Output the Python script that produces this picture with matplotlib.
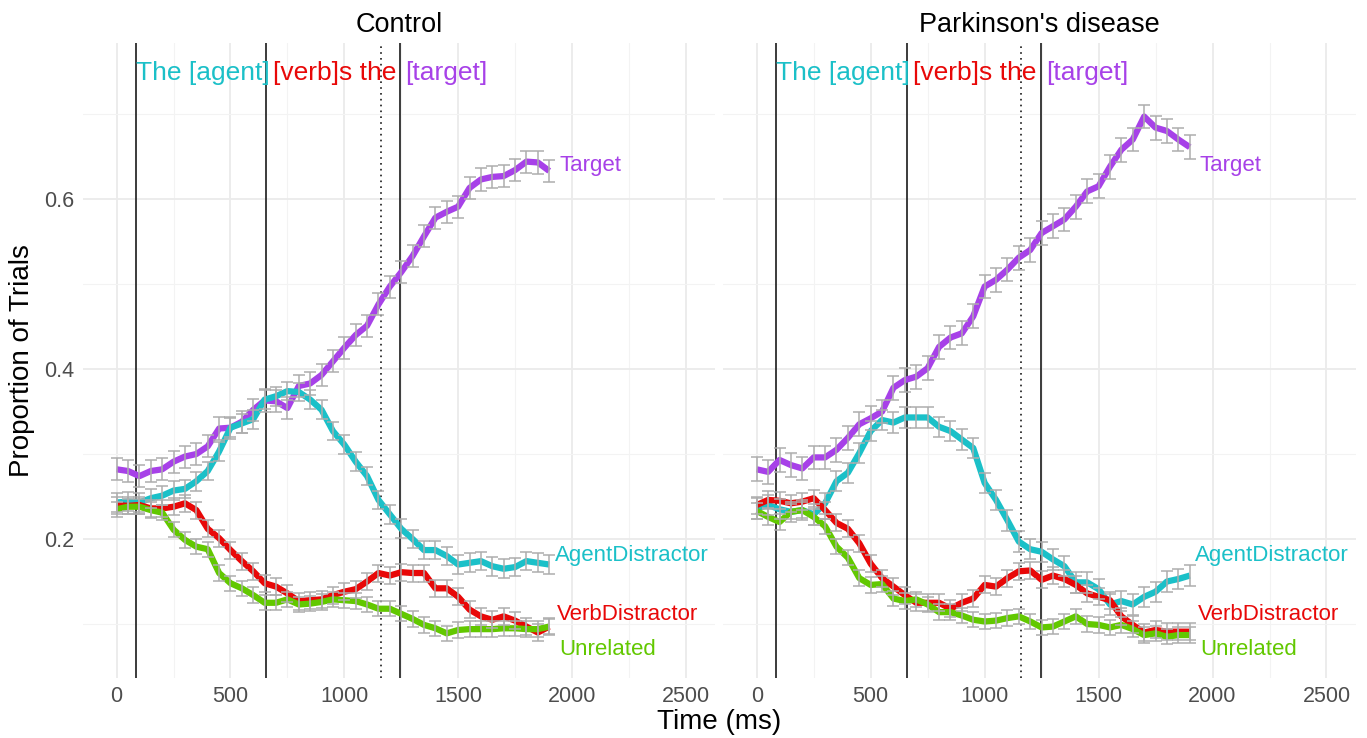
import matplotlib
matplotlib.use("Agg")
import matplotlib.pyplot as plt
import numpy as np

plt.rcParams['font.family'] = ['Liberation Sans', 'DejaVu Sans']

# time bins (ms)
time = np.arange(0, 1901, 50)

# Control group
ctrl_target = [0.282, 0.280, 0.274, 0.280, 0.282, 0.291, 0.297, 0.300, 0.309, 0.330,
               0.331, 0.338, 0.352, 0.363, 0.362, 0.354, 0.380, 0.383, 0.393, 0.409,
               0.425, 0.440, 0.451, 0.476, 0.497, 0.514, 0.533, 0.556, 0.578, 0.585,
               0.591, 0.613, 0.623, 0.626, 0.627, 0.634, 0.644, 0.643, 0.633]
ctrl_agent = [0.243, 0.244, 0.243, 0.248, 0.251, 0.257, 0.259, 0.268, 0.280, 0.303,
              0.331, 0.336, 0.341, 0.364, 0.368, 0.374, 0.373, 0.364, 0.352, 0.327,
              0.311, 0.291, 0.274, 0.246, 0.229, 0.212, 0.200, 0.187, 0.187, 0.180,
              0.170, 0.172, 0.174, 0.168, 0.165, 0.167, 0.174, 0.172, 0.170]
ctrl_verb = [0.240, 0.239, 0.240, 0.236, 0.236, 0.238, 0.242, 0.234, 0.212, 0.201,
             0.187, 0.174, 0.162, 0.148, 0.144, 0.136, 0.127, 0.128, 0.129, 0.134,
             0.138, 0.141, 0.150, 0.160, 0.157, 0.161, 0.160, 0.160, 0.142, 0.142,
             0.132, 0.117, 0.109, 0.105, 0.109, 0.104, 0.097, 0.090, 0.097]
ctrl_unrel = [0.235, 0.238, 0.238, 0.234, 0.231, 0.211, 0.199, 0.191, 0.188, 0.160,
              0.148, 0.142, 0.134, 0.125, 0.125, 0.129, 0.123, 0.124, 0.126, 0.129,
              0.128, 0.127, 0.123, 0.118, 0.118, 0.112, 0.106, 0.099, 0.095, 0.089,
              0.093, 0.094, 0.094, 0.094, 0.095, 0.095, 0.094, 0.094, 0.097]

# Parkinson's disease group
pd_target = [0.282, 0.279, 0.293, 0.287, 0.283, 0.296, 0.296, 0.305, 0.319, 0.335,
             0.342, 0.350, 0.378, 0.387, 0.391, 0.401, 0.426, 0.437, 0.442, 0.462,
             0.497, 0.505, 0.517, 0.531, 0.540, 0.560, 0.568, 0.576, 0.591, 0.609,
             0.615, 0.638, 0.658, 0.670, 0.697, 0.684, 0.680, 0.670, 0.661]
pd_agent = [0.236, 0.240, 0.235, 0.232, 0.234, 0.229, 0.242, 0.268, 0.278, 0.301,
            0.327, 0.340, 0.337, 0.343, 0.343, 0.343, 0.332, 0.327, 0.317, 0.307,
            0.266, 0.246, 0.222, 0.197, 0.188, 0.185, 0.176, 0.168, 0.149, 0.149,
            0.141, 0.123, 0.127, 0.123, 0.132, 0.138, 0.150, 0.153, 0.157]
pd_verb = [0.240, 0.246, 0.245, 0.242, 0.244, 0.248, 0.234, 0.219, 0.212, 0.195,
           0.171, 0.154, 0.144, 0.134, 0.125, 0.125, 0.125, 0.118, 0.125, 0.130,
           0.146, 0.144, 0.154, 0.162, 0.163, 0.152, 0.157, 0.153, 0.146, 0.136,
           0.132, 0.128, 0.109, 0.099, 0.090, 0.093, 0.091, 0.091, 0.091]
pd_unrel = [0.233, 0.226, 0.220, 0.232, 0.234, 0.226, 0.215, 0.191, 0.178, 0.154,
            0.146, 0.147, 0.130, 0.127, 0.129, 0.123, 0.114, 0.114, 0.110, 0.105,
            0.103, 0.104, 0.107, 0.109, 0.103, 0.096, 0.097, 0.103, 0.109, 0.100,
            0.099, 0.096, 0.099, 0.094, 0.087, 0.089, 0.085, 0.087, 0.087]

# standard errors (approx. per series)
ctrl_se = [0.013, 0.011, 0.010, 0.009]
pd_se = [0.014, 0.012, 0.010, 0.009]

series_names = ['Target', 'AgentDistractor', 'VerbDistractor', 'Unrelated']
colors = ['#A741E8', '#1BC0C8', '#E80808', '#62C800']
label_x = [1945, 1925, 1935, 1945]
label_y = [0.639, 0.181, 0.111, 0.070]

panels = [("Control", [ctrl_target, ctrl_agent, ctrl_verb, ctrl_unrel], ctrl_se),
          ("Parkinson's disease", [pd_target, pd_agent, pd_verb, pd_unrel], pd_se)]

# word onsets (ms) and sentence segments
onsets = [83, 658, 1246]
dotted_line = 1159
sentence = ["The [agent]", "[verb]s the", "[target]"]
sentence_x = [83, 686, 1268]
sentence_col = ['#1BC0C8', '#E80808', '#A741E8']

fig = plt.figure(figsize=(13.67, 7.38), dpi=100)
ax_pos = [[0.0607, 0.0813, 0.4623, 0.8604],
          [0.5289, 0.0813, 0.4628, 0.8604]]

for p, (title, ys, ses) in enumerate(panels):
    ax = fig.add_axes(ax_pos[p])
    ax.set_xlim(-148, 2628)
    ax.set_ylim(0.0365, 0.7835)
    ax.set_xticks([0, 500, 1000, 1500, 2000, 2500])
    ax.set_xticks([250, 750, 1250, 1750, 2250], minor=True)
    ax.set_yticks([0.2, 0.4, 0.6])
    ax.set_yticks([0.1, 0.3, 0.5, 0.7], minor=True)
    ax.grid(which='major', color='#EBEBEB', linewidth=1.3)
    ax.grid(which='minor', color='#F3F3F3', linewidth=0.8)
    ax.set_axisbelow(True)
    for s in ax.spines.values():
        s.set_visible(False)
    ax.tick_params(which='both', length=0, labelsize=15.5, labelcolor='#4D4D4D', pad=6)
    if p == 1:
        ax.set_yticklabels([])
    ax.set_title(title, fontsize=19.5, pad=8)

    for x in onsets:
        ax.axvline(x, color='#1A1A1A', linewidth=1.2, zorder=2)
    ax.axvline(dotted_line, color='#1A1A1A', linewidth=1.2, linestyle=(0, (1, 2.5)), zorder=2)

    for i in range(4):
        ax.plot(time, ys[i], color=colors[i], linewidth=4.5, zorder=3, solid_capstyle='butt')
    for i in range(4):
        ax.errorbar(time, ys[i], yerr=ses[i], fmt='none', ecolor='#ADADAD',
                    elinewidth=1.1, capsize=4, capthick=1.1, zorder=4)
        ax.text(label_x[i], label_y[i], series_names[i], color=colors[i],
                fontsize=16, ha='left', va='center')

    for t, x, c in zip(sentence, sentence_x, sentence_col):
        ax.text(x, 0.748, t, color=c, fontsize=19, ha='left', va='center')

fig.text(0.526, 0.022, 'Time (ms)', fontsize=20, ha='center', va='center')
fig.text(0.016, 0.512, 'Proportion of Trials', fontsize=20, ha='center', va='center',
         rotation=90)

fig.savefig('out.png', dpi=100)
